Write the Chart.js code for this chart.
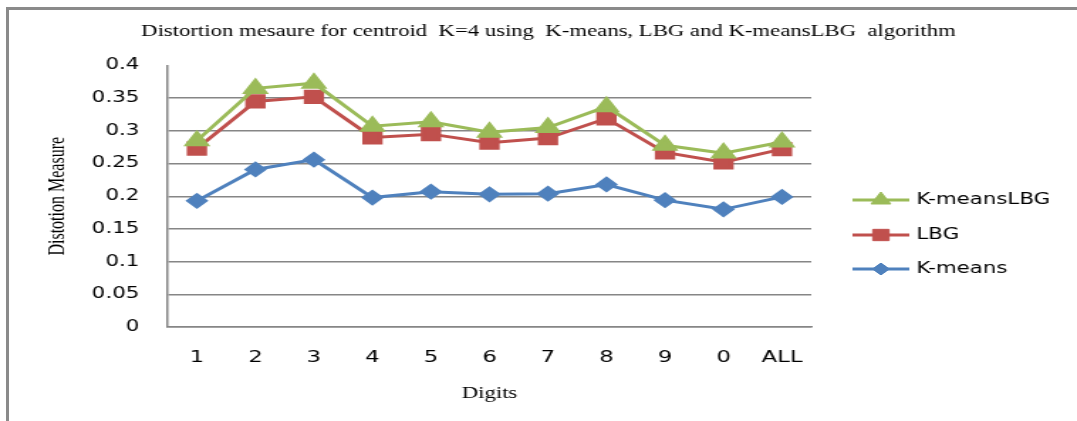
<!DOCTYPE html>
<html>
<head>
<meta charset="utf-8">
<script src="https://cdn.jsdelivr.net/npm/chart.js"></script>
<style>
body{margin:0;background:#fff;overflow:hidden;}
#frame{position:absolute;left:6px;top:7px;width:1071px;height:414px;border-left:3px solid #8a8a8a;border-top:3px solid #8a8a8a;}
#wrap{position:absolute;left:0;top:0;width:758px;height:421px;transform:scaleX(1.4208);transform-origin:0 0;}
</style>
</head>
<body>
<div id="frame"></div>
<div id="wrap"><canvas id="chart" width="758" height="421"></canvas></div>
<script>
var chartTitle = 'Distortion mesaure for centroid  K=4 using  K-means, LBG and K-meansLBG  algorithm'
var digits = ["1", "2", "3", "4", "5", "6", "7", "8", "9", "0", "ALL"]
var kmeansLbg = [0.285, 0.365, 0.373, 0.307, 0.314, 0.298, 0.305, 0.337, 0.278, 0.266, 0.283]
var lbg = [0.273, 0.345, 0.352, 0.290, 0.295, 0.282, 0.289, 0.319, 0.267, 0.252, 0.272]
var kmeans = [0.193, 0.241, 0.256, 0.198, 0.207, 0.203, 0.204, 0.218, 0.194, 0.180, 0.199]
var yMin = 0
var yMax = 0.4
var yStep = 0.05

var gridGray = '#868686'

// title and legend drawn by hand; the title sits a bit right of the canvas centre
// and the legend is line + marker + label to the right of the plot
var extras = {
    id: 'extras',
    afterDraw: function(chart){
        var ctx = chart.ctx
        ctx.save()
        ctx.fillStyle = '#000'
        ctx.font = '16px "Liberation Serif"'
        ctx.textAlign = 'center'
        ctx.textBaseline = 'middle'
        ctx.fillText(chartTitle, 386, 32)
        ctx.restore()

        var x0 = chart.chartArea.right + 29
        var x1 = x0 + 40
        var ys = [200, 235, 269]
        chart.data.datasets.forEach(function(ds, i){
            var y = ys[i]
            ctx.save()
            ctx.strokeStyle = ds.borderColor
            ctx.fillStyle = ds.borderColor
            ctx.lineWidth = 3
            ctx.beginPath()
            ctx.moveTo(x0, y)
            ctx.lineTo(x1, y)
            ctx.stroke()
            ctx.lineWidth = 1
            Chart.helpers.drawPoint(ctx, {pointStyle: ds.pointStyle, radius: ds.pointRadius, borderWidth: 1, rotation: 0}, (x0 + x1) / 2, y)
            ctx.fillStyle = '#000'
            ctx.font = '15px "DejaVu Sans"'
            ctx.textBaseline = 'middle'
            ctx.textAlign = 'left'
            ctx.fillText(ds.label, x1 + 5, y)
            ctx.restore()
        })
    }
}

var canvas = document.getElementById("chart").getContext('2d')

var chart = new Chart(canvas, {
    type: 'line',
    data: {
        labels: digits,
        datasets: [
            {
                label: 'K-meansLBG',
                data: kmeansLbg,
                borderColor: '#9bbb59',
                backgroundColor: '#9bbb59',
                pointBackgroundColor: '#9bbb59',
                pointBorderColor: '#9bbb59',
                pointStyle: 'triangle',
                pointRadius: 8,
                borderWidth: 3,
                lineTension: 0,
                fill: false
            },
            {
                label: 'LBG',
                data: lbg,
                borderColor: '#c0504d',
                backgroundColor: '#c0504d',
                pointBackgroundColor: '#c0504d',
                pointBorderColor: '#c0504d',
                pointStyle: 'rect',
                pointRadius: 8,
                borderWidth: 3,
                lineTension: 0,
                fill: false
            },
            {
                label: 'K-means',
                data: kmeans,
                borderColor: '#4f81bd',
                backgroundColor: '#4f81bd',
                pointBackgroundColor: '#4f81bd',
                pointBorderColor: '#4f81bd',
                pointStyle: 'rectRot',
                pointRadius: 6,
                borderWidth: 3,
                lineTension: 0,
                fill: false
            }
        ]
    },
    options: {
        responsive: false,
        animation: false,
        devicePixelRatio: 1,
        layout: {padding: {left: 0, right: 187, top: 65.5, bottom: 0}},
        plugins: {
            legend: {display: false},
            tooltip: {enabled: false},
            title: {display: false}
        },
        scales: {
            x: {
                offset: true,
                grid: {display: false, drawTicks: false},
                border: {display: true, color: gridGray, width: 1.5},
                ticks: {padding: 21, color: '#000', maxRotation: 0, font: {family: 'DejaVu Sans', size: 16}},
                title: {display: true, text: 'Digits', color: '#000', font: {family: 'Liberation Serif', size: 16}, padding: {top: 0, bottom: 18}},
                afterFit: function(s){ s.height = 94 }
            },
            y: {
                min: yMin,
                max: yMax,
                grid: {
                    drawTicks: false,
                    lineWidth: 1.5,
                    color: function(c){ return c.tick && c.tick.value > yMax - 0.01 ? 'rgba(0,0,0,0)' : gridGray }
                },
                border: {color: gridGray, width: 1.5},
                ticks: {
                    stepSize: yStep,
                    padding: 20,
                    color: '#000',
                    font: {family: 'DejaVu Sans', size: 15},
                    callback: function(v){ return String(+v.toFixed(2)) }
                },
                title: {display: true, text: 'Distotion Measure', color: '#000', font: {family: 'Liberation Serif', size: 16}, padding: {top: 31}},
                afterFit: function(s){ s.width = 118 }
            }
        }
    },
    plugins: [extras]
})
</script>
</body>
</html>
